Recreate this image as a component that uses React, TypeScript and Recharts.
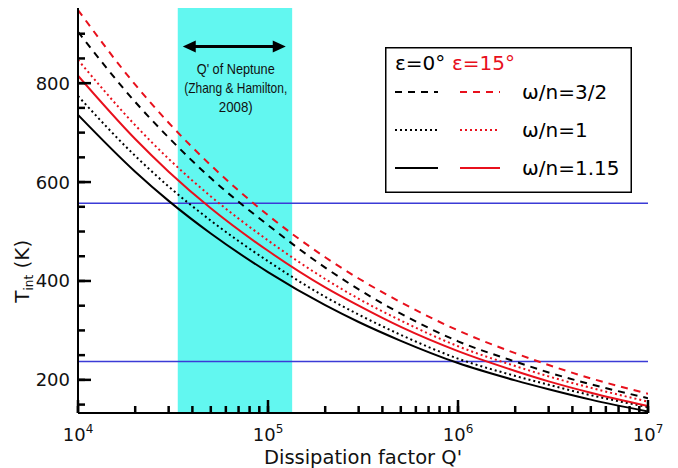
import React from "react";
import {
  LineChart,
  Line,
  XAxis,
  YAxis,
  ReferenceArea,
  ReferenceLine,
  Legend,
} from "recharts";

const RED = "#e8101c";
const BLUE = "#3b3bd6";
const CYAN = "#62f7f0";
const FONT = "'DejaVu Sans', Verdana, sans-serif";

// dissipation factor Q'
const qValues = [1e4, 2e4, 3e4, 5e4, 1e5, 2e5, 3e5, 5e5, 1e6, 2e6, 3e6, 5e6, 1e7];

// epsilon = 0
const dashed0 = [904, 762, 690, 608, 513, 427, 383, 334, 278, 237, 215, 191, 163];
const dotted0 = [774, 653, 591, 522, 440, 368, 332, 291, 243, 208, 190, 169, 145];
const solid0 = [736, 621, 562, 496, 418, 351, 317, 279, 234, 199, 181, 160, 136];

// epsilon = 15
const dashed15 = [948, 797, 720, 634, 533, 448, 405, 357, 300, 254, 230, 203, 172];
const dotted15 = [847, 715, 647, 571, 482, 404, 364, 320, 268, 228, 207, 184, 156];
const solid15 = [815, 687, 621, 547, 461, 387, 350, 307, 258, 218, 197, 174, 147];

const neptuneQ = [3.35e4, 1.34e5];
const arrowQ = [3.56e4, 1.24e5];
const arrowT = 874;
const tLevels = [557, 237];

const xDomain = [1e4, 1e7];
const yDomain = [133, 952];
const xMajor = [1e4, 1e5, 1e6, 1e7];
const xMinor = [1e4, 1e5, 1e6].flatMap((d) =>
  [2, 3, 4, 5, 6, 7, 8, 9].map((m) => m * d)
);
const yMajor = [200, 400, 600, 800];
const yMinor = [150, 250, 300, 350, 450, 500, 550, 650, 700, 750, 850, 900];
const xTicks = [...xMajor, ...xMinor];
const yTicks = [...yMajor, ...yMinor];

const annotation = ["Q' of Neptune", "(Zhang & Hamilton,", "2008)"];
const annotationWidths = [78, 103, 34];
const legendLabels = ["\u03c9/n=3/2", "\u03c9/n=1", "\u03c9/n=1.15"];
const legendDashes = ["7 6", "2 3", undefined];

const data = qValues.map((q, i) => ({
  q,
  dashed0: dashed0[i],
  dotted0: dotted0[i],
  solid0: solid0[i],
  dashed15: dashed15[i],
  dotted15: dotted15[i],
  solid15: solid15[i],
}));

const series = [
  { key: "solid0", color: "#000", dash: undefined },
  { key: "dotted0", color: "#000", dash: "2 3" },
  { key: "dashed0", color: "#000", dash: "7 6" },
  { key: "solid15", color: RED, dash: undefined },
  { key: "dotted15", color: RED, dash: "2 3" },
  { key: "dashed15", color: RED, dash: "7 6" },
];

// built-in tick lines point inward (negative size); majors get a longer line here
const MINOR = 7;
const MAJOR = 13;
const TICK_W = 2.5;
const tickLineStyle = { stroke: "#000", strokeWidth: TICK_W };

const BottomTick = ({ x, y, payload }: any) => {
  if (!xMajor.includes(payload.value)) return <g />;
  const axisY = y + MINOR;
  const exp = Math.round(Math.log10(payload.value));
  return (
    <g>
      <line x1={x} x2={x} y1={axisY} y2={axisY - MAJOR} stroke="#000" strokeWidth={TICK_W} />
      <text x={x} y={axisY + 27.5} textAnchor="middle" fontSize={18} fill="#111" fontFamily={FONT}>
        10
        <tspan dy={-8} fontSize={12}>
          {exp}
        </tspan>
      </text>
    </g>
  );
};

const TopTick = ({ x, y, payload }: any) => {
  if (!xMajor.includes(payload.value)) return <g />;
  const axisY = y - MINOR;
  return <line x1={x} x2={x} y1={axisY} y2={axisY + MAJOR} stroke="#000" strokeWidth={TICK_W} />;
};

const LeftTick = ({ x, y, payload }: any) => {
  if (!yMajor.includes(payload.value)) return <g />;
  const axisX = x - MINOR;
  return (
    <g>
      <line x1={axisX} x2={axisX + MAJOR} y1={y} y2={y} stroke="#000" strokeWidth={TICK_W} />
      <text x={axisX - 8} y={y + 6.5} textAnchor="end" fontSize={18} fill="#111" fontFamily={FONT}>
        {payload.value}
      </text>
    </g>
  );
};

const RightTick = ({ x, y, payload }: any) => {
  if (!yMajor.includes(payload.value)) return <g />;
  const axisX = x + MINOR;
  return <line x1={axisX} x2={axisX - MAJOR} y1={y} y2={y} stroke="#000" strokeWidth={TICK_W} />;
};

const YTitle = ({ viewBox }: any) => {
  const cx = viewBox.x + 22;
  const cy = viewBox.y + viewBox.height * 0.65;
  return (
    <text
      x={cx}
      y={cy}
      dy={7}
      textAnchor="middle"
      transform={`rotate(-90 ${cx} ${cy})`}
      fontSize={20}
      fill="#111"
      fontFamily={FONT}
    >
      T
      <tspan fontSize={12} dy={4}>
        int
      </tspan>
      <tspan dy={-4}> (K)</tspan>
    </text>
  );
};

const ArrowShape = ({ x1, y1, x2 }: any) => {
  const cx = (x1 + x2) / 2 + 1.5;
  return (
    <g>
      <line x1={x1 + 8} x2={x2 - 8} y1={y1} y2={y1} stroke="#000" strokeWidth={3} />
      <polygon points={`${x1},${y1} ${x1 + 13},${y1 - 6} ${x1 + 13},${y1 + 6}`} fill="#000" />
      <polygon points={`${x2},${y1} ${x2 - 13},${y1 - 6} ${x2 - 13},${y1 + 6}`} fill="#000" />
      {annotation.map((t, i) => (
        <text
          key={t}
          x={cx}
          y={y1 + 27 + i * 19}
          textAnchor="middle"
          fontSize={15}
          fill="#111"
          fontFamily="'Liberation Sans Narrow', 'Liberation Sans', Arial, sans-serif"
          textLength={annotationWidths[i]}
          lengthAdjust="spacingAndGlyphs"
        >
          {t}
        </text>
      ))}
    </g>
  );
};

const LegendBox = () => (
  <svg width={247} height={146} style={{ display: "block" }}>
    <rect x={0.75} y={0.75} width={245.5} height={144.5} fill="#fff" stroke="#000" strokeWidth={1.5} />
    <text x={10} y={23} fontSize={20} fill="#000" fontFamily={FONT}>
      {"\u03b5=0\u00b0"}
    </text>
    <text x={67} y={23} fontSize={20} fill={RED} fontFamily={FONT}>
      {"\u03b5=15\u00b0"}
    </text>
    {legendLabels.map((label, i) => {
      const y = 45 + i * 38;
      return (
        <g key={label}>
          <line x1={10} x2={53} y1={y} y2={y} stroke="#000" strokeWidth={2} strokeDasharray={legendDashes[i]} />
          <line x1={75} x2={115} y1={y} y2={y} stroke={RED} strokeWidth={2} strokeDasharray={legendDashes[i]} />
          <text x={137} y={y + 7} fontSize={20} fill="#000" fontFamily={FONT}>
            {label}
          </text>
        </g>
      );
    })}
  </svg>
);

export default function App() {
  return (
    <div style={{ position: "absolute", left: 0, top: 0, width: 678, height: 468, background: "#fff", fontFamily: FONT }}>
      <LineChart width={678} height={468} data={data} margin={{ top: 8, right: 30, bottom: 0, left: 0 }}>
        <XAxis
          xAxisId="b"
          dataKey="q"
          type="number"
          scale="log"
          domain={xDomain}
          allowDataOverflow
          ticks={xTicks}
          interval={0}
          tick={<BottomTick />}
          tickLine={tickLineStyle}
          tickSize={-MINOR}
          tickMargin={0}
          height={55}
          axisLine={{ stroke: "#000", strokeWidth: 2 }}
          label={{
            value: "Dissipation factor Q'",
            position: "insideBottom",
            offset: 4.5,
            fontSize: 19.5,
            fill: "#111",
            fontFamily: FONT,
          }}
        />
        <XAxis
          xAxisId="t"
          orientation="top"
          dataKey="q"
          type="number"
          scale="log"
          domain={xDomain}
          allowDataOverflow
          ticks={xTicks}
          interval={0}
          tick={<TopTick />}
          tickLine={tickLineStyle}
          tickSize={-MINOR}
          tickMargin={0}
          height={0}
          axisLine={{ stroke: "#000", strokeWidth: 2 }}
        />
        <YAxis
          yAxisId="l"
          type="number"
          domain={yDomain}
          allowDataOverflow
          ticks={yTicks}
          interval={0}
          tick={<LeftTick />}
          tickLine={tickLineStyle}
          tickSize={-MINOR}
          tickMargin={0}
          width={78}
          axisLine={{ stroke: "#000", strokeWidth: 2 }}
          label={{ content: <YTitle /> }}
        />
        <YAxis
          yAxisId="r"
          orientation="right"
          type="number"
          domain={yDomain}
          allowDataOverflow
          ticks={yTicks}
          interval={0}
          tick={<RightTick />}
          tickLine={tickLineStyle}
          tickSize={-MINOR}
          tickMargin={0}
          width={0}
          axisLine={{ stroke: "#000", strokeWidth: 2 }}
        />
        <ReferenceArea
          xAxisId="b"
          yAxisId="l"
          x1={neptuneQ[0]}
          x2={neptuneQ[1]}
          fill={CYAN}
          fillOpacity={1}
          stroke="none"
        />
        {tLevels.map((t) => (
          <ReferenceLine key={t} xAxisId="b" yAxisId="l" y={t} stroke={BLUE} strokeWidth={1.5} />
        ))}
        <ReferenceLine
          xAxisId="b"
          yAxisId="l"
          segment={[
            { x: arrowQ[0], y: arrowT },
            { x: arrowQ[1], y: arrowT },
          ]}
          shape={ArrowShape}
        />
        {series.map((s) => (
          <Line
            key={s.key}
            xAxisId="b"
            yAxisId="l"
            dataKey={s.key}
            type="monotone"
            stroke={s.color}
            strokeWidth={2}
            strokeDasharray={s.dash}
            dot={false}
            isAnimationActive={false}
          />
        ))}
        <Legend
          content={<LegendBox />}
          layout="horizontal"
          verticalAlign="middle"
          align="center"
          wrapperStyle={{ left: 385, top: 47, width: 247, height: 146 }}
        />
      </LineChart>
    </div>
  );
}
